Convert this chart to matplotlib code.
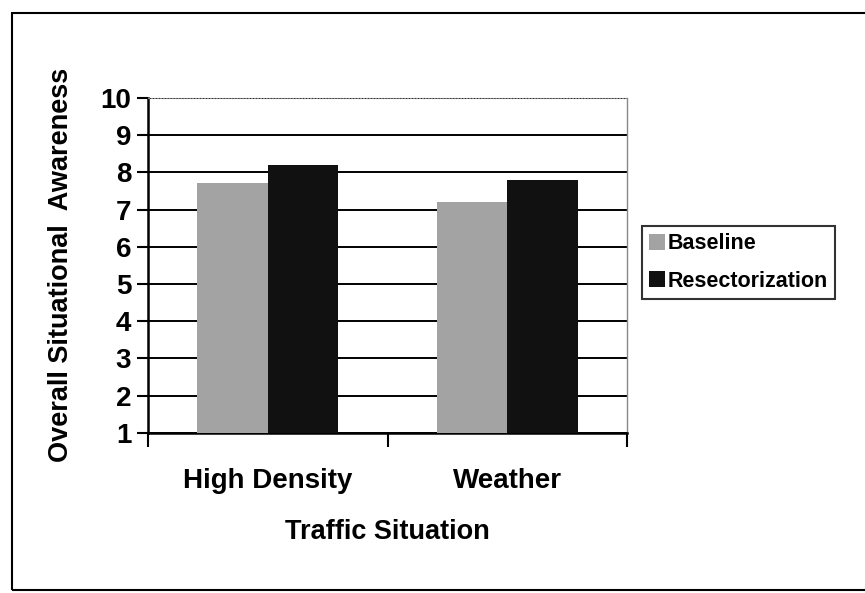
import matplotlib
matplotlib.use("Agg")
import matplotlib.pyplot as plt
from matplotlib.patches import Rectangle
import numpy as np

plt.rcParams['font.family'] = ['Liberation Sans', 'DejaVu Sans']
plt.rcParams['font.weight'] = 'bold'

categories = ['High Density', 'Weather']
baseline = [7.7, 7.2]
resectorization = [8.2, 7.8]
yticks = [1, 2, 3, 4, 5, 6, 7, 8, 9, 10]

fig = plt.figure(figsize=(8.65, 5.93), dpi=100)
ax = fig.add_axes([0.171, 0.270, 0.554, 0.565])

x = np.arange(len(categories))
w = 0.295
ax.bar(x - w / 2, np.array(baseline) - 1, w, bottom=1, color='#a3a3a3',
       label='Baseline', zorder=3)
ax.bar(x + w / 2, np.array(resectorization) - 1, w, bottom=1, color='#111111',
       label='Resectorization', zorder=3)

ax.set_ylim(1, 10)
ax.set_xlim(-0.5, 1.5)
ax.set_yticks(yticks)
ax.set_yticklabels([str(t) for t in yticks], fontsize=20, fontweight='bold')
ax.yaxis.grid(True, color='black', lw=1.4, zorder=1)

# category ticks between groups, labels centred
ax.set_xticks([-0.5, 0.5, 1.5])
ax.set_xticklabels([])
ax.set_xticks(x, minor=True)
ax.set_xticklabels(categories, minor=True, fontsize=20, fontweight='bold')
ax.tick_params(axis='x', which='major', length=10, width=1.5, direction='out')
ax.tick_params(axis='x', which='minor', length=0, pad=25)
ax.tick_params(axis='y', length=8, width=1.5, direction='out', pad=4)

for s in ['left', 'bottom']:
    ax.spines[s].set_linewidth(1.8)
ax.spines['top'].set_color('#888888')
ax.spines['top'].set_linestyle(':')
ax.spines['right'].set_color('#888888')
ax.spines['right'].set_linewidth(1.0)

ax.set_xlabel('Traffic Situation', fontsize=19.5, fontweight='bold', labelpad=18)
ax.set_ylabel('Overall Situational  Awareness', fontsize=19.5, fontweight='bold')
ax.yaxis.set_label_coords(-0.155, 0.5)

leg = ax.legend(loc='upper left', bbox_to_anchor=(1.03, 0.618), fontsize=15.5,
                frameon=True, fancybox=False, edgecolor='black',
                handlelength=0.75, handleheight=0.8, handletextpad=0.1,
                borderpad=0.35, labelspacing=0.75, borderaxespad=0)
leg.get_frame().set_linewidth(1.5)
for t in leg.get_texts():
    t.set_fontweight('bold')

# outer frame of the chart area
fig.patches.append(Rectangle((12 / 865, 3 / 593), 1.0, 577 / 593,
                             transform=fig.transFigure, fill=False,
                             edgecolor='black', lw=1.5))

fig.savefig('out.png', dpi=100)
